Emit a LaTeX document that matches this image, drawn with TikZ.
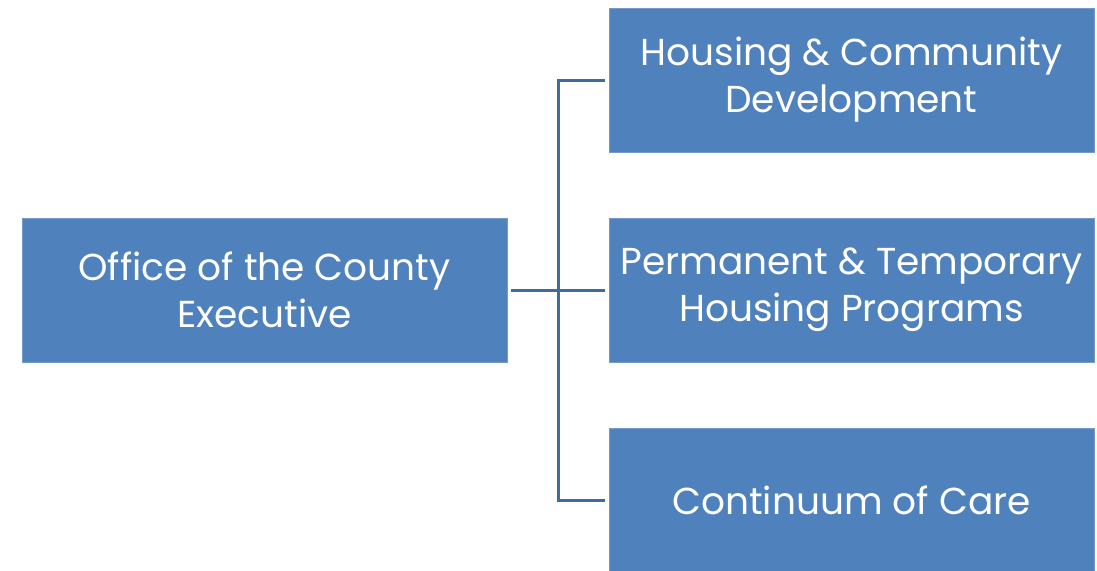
\documentclass[tikz,border=0pt]{standalone}
\usepackage{fontspec}
\setmainfont{Poppins}
\usetikzlibrary{calc}
\definecolor{boxblue}{HTML}{4F81BD}
\definecolor{linkblue}{HTML}{3F6A9C}
\tikzset{
  unitbox/.style={
    draw=boxblue!80!white,
    line width=0.8pt,
    fill=boxblue,
    text=white,
    minimum width=485pt,
    minimum height=144pt,
    inner sep=0pt,
    align=center,
    font=\fontsize{37.5}{47}\selectfont
  },
  link/.style={
    draw=linkblue,
    line width=3pt,
    line join=miter
  }
}
\begin{document}
\begin{tikzpicture}[x=1pt,y=-1pt]
  \useasboundingbox (0,0) rectangle (1097,570);
  \node[unitbox] (exec) at (264.5,290) {Office of the County\\Executive};
  \node[unitbox] (hcd) at (851.5,80) {Housing \& Community\\Development};
  \node[unitbox] (prog) at (851.5,290) {Permanent \& Temporary\\Housing Programs};
  \node[unitbox] (coc) at (851.5,500) {Continuum of Care};
  % tree connectors
  \coordinate (spine) at ($(exec.east)!0.5!(prog.west)$);
  \draw[link] ([xshift=4pt]exec.east) -- ([xshift=-4pt]prog.west);
  \draw[link] ([xshift=-4pt]hcd.west) -| (spine) |- ([xshift=-4pt]coc.west);
\end{tikzpicture}
\end{document}
